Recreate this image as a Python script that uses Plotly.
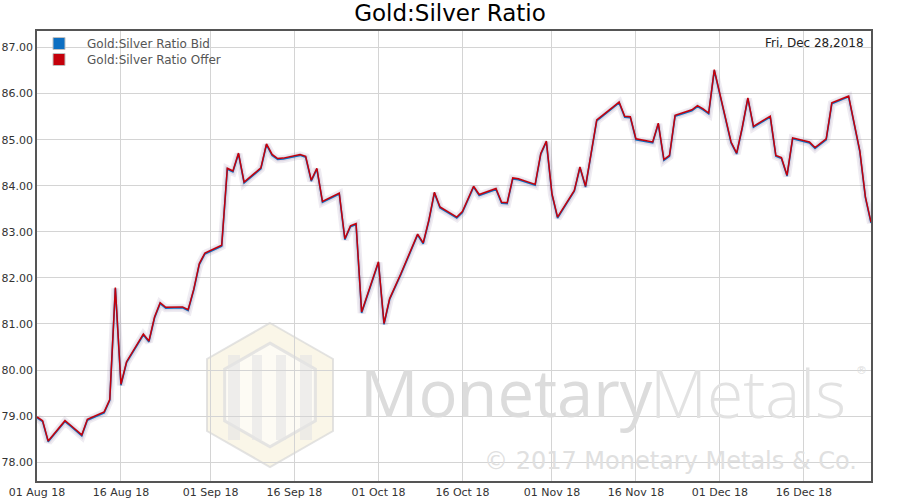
import plotly.graph_objects as go

dates = [
    "2018-08-01", "2018-08-02", "2018-08-03", "2018-08-06", "2018-08-07", "2018-08-08", "2018-08-09", "2018-08-10",
    "2018-08-13", "2018-08-14", "2018-08-15", "2018-08-16", "2018-08-17", "2018-08-20", "2018-08-21", "2018-08-22",
    "2018-08-23", "2018-08-24", "2018-08-27", "2018-08-28", "2018-08-29", "2018-08-30", "2018-08-31", "2018-09-03",
    "2018-09-04", "2018-09-05", "2018-09-06", "2018-09-07", "2018-09-10", "2018-09-11", "2018-09-12", "2018-09-13",
    "2018-09-14", "2018-09-17", "2018-09-18", "2018-09-19", "2018-09-20", "2018-09-21", "2018-09-24", "2018-09-25",
    "2018-09-26", "2018-09-27", "2018-09-28", "2018-10-01", "2018-10-02", "2018-10-03", "2018-10-04", "2018-10-05",
    "2018-10-08", "2018-10-09", "2018-10-10", "2018-10-11", "2018-10-12", "2018-10-15", "2018-10-16", "2018-10-17",
    "2018-10-18", "2018-10-19", "2018-10-22", "2018-10-23", "2018-10-24", "2018-10-25", "2018-10-26", "2018-10-29",
    "2018-10-30", "2018-10-31", "2018-11-01", "2018-11-02", "2018-11-05", "2018-11-06", "2018-11-07", "2018-11-08",
    "2018-11-09", "2018-11-12", "2018-11-13", "2018-11-14", "2018-11-15", "2018-11-16", "2018-11-19", "2018-11-20",
    "2018-11-21", "2018-11-22", "2018-11-23", "2018-11-26", "2018-11-27", "2018-11-28", "2018-11-29", "2018-11-30",
    "2018-12-03", "2018-12-04", "2018-12-05", "2018-12-06", "2018-12-07", "2018-12-10", "2018-12-11", "2018-12-12",
    "2018-12-13", "2018-12-14", "2018-12-17", "2018-12-18", "2018-12-19", "2018-12-20", "2018-12-21", "2018-12-24",
    "2018-12-26", "2018-12-27", "2018-12-28",
]

offer = [
    78.98, 78.90, 78.46, 78.90, 78.80, 78.69, 78.59, 78.93,
    79.09, 79.36, 81.79, 79.69, 80.18, 80.78, 80.63, 81.15,
    81.46, 81.36, 81.37, 81.31, 81.75, 82.31, 82.54, 82.71,
    84.38, 84.32, 84.71, 84.08, 84.39, 84.91, 84.68, 84.59,
    84.60, 84.68, 84.64, 84.12, 84.38, 83.66, 83.84, 82.85,
    83.13, 83.18, 81.26, 82.35, 81.01, 81.55, 81.84, 82.09,
    82.95, 82.76, 83.25, 83.86, 83.54, 83.32, 83.44, 83.72,
    83.99, 83.81, 83.94, 83.64, 83.63, 84.17, 84.15, 84.03,
    84.70, 84.97, 83.83, 83.32, 83.90, 84.41, 83.99, 84.71,
    85.43, 85.72, 85.82, 85.51, 85.50, 85.02, 84.95, 85.36,
    84.57, 84.66, 85.53, 85.65, 85.74, 85.67, 85.58, 86.52,
    84.95, 84.71, 85.27, 85.91, 85.29, 85.51, 84.66, 84.61,
    84.23, 85.04, 84.95, 84.83, 84.93, 85.02, 85.80, 85.95,
    84.76, 83.76, 83.21,
]

bid = [
    78.96, 78.88, 78.44, 78.88, 78.78, 78.67, 78.57, 78.91,
    79.07, 79.34, 81.77, 79.67, 80.16, 80.76, 80.61, 81.13,
    81.44, 81.34, 81.35, 81.29, 81.73, 82.29, 82.52, 82.69,
    84.36, 84.30, 84.69, 84.06, 84.37, 84.89, 84.66, 84.57,
    84.58, 84.66, 84.62, 84.10, 84.36, 83.64, 83.82, 82.83,
    83.11, 83.16, 81.24, 82.33, 80.99, 81.53, 81.82, 82.07,
    82.93, 82.74, 83.23, 83.84, 83.52, 83.30, 83.42, 83.70,
    83.97, 83.79, 83.92, 83.62, 83.61, 84.15, 84.13, 84.01,
    84.68, 84.95, 83.81, 83.30, 83.88, 84.39, 83.97, 84.69,
    85.41, 85.70, 85.80, 85.49, 85.48, 85.00, 84.93, 85.34,
    84.55, 84.64, 85.51, 85.63, 85.72, 85.65, 85.56, 86.50,
    84.93, 84.69, 85.25, 85.89, 85.27, 85.49, 84.64, 84.59,
    84.21, 85.02, 84.93, 84.81, 84.91, 85.00, 85.78, 85.93,
    84.74, 83.74, 83.19,
]

x_tick_vals = ["2018-08-01", "2018-08-16", "2018-09-01", "2018-09-16", "2018-10-01",
               "2018-10-16", "2018-11-01", "2018-11-16", "2018-12-01", "2018-12-16"]
x_tick_text = ["01 Aug 18", "16 Aug 18", "01 Sep 18", "16 Sep 18", "01 Oct 18",
               "16 Oct 18", "01 Nov 18", "16 Nov 18", "01 Dec 18", "16 Dec 18"]
y_tick_vals = [78, 79, 80, 81, 82, 83, 84, 85, 86, 87]

series_names = ["Gold:Silver Ratio Bid", "Gold:Silver Ratio Offer"]
series_colors = ["#0d6fc2", "#c4000b"]
date_label = "Fri, Dec 28,2018"

W, H = 900, 500
L, R, T, B = 37, 29, 31, 19


def px(x):  # page pixel -> paper x
    return (x - L) / (W - L - R)


def py(y):  # page pixel -> paper y
    return (H - B - y) / (H - T - B)


fig = go.Figure()

# soft shadow
fig.add_trace(go.Scatter(x=dates, y=bid, mode="lines",
                         line=dict(color="rgba(120,100,150,0.12)", width=8),
                         showlegend=False, hoverinfo="skip"))
fig.add_trace(go.Scatter(x=dates, y=bid, mode="lines",
                         line=dict(color="rgba(120,100,150,0.14)", width=4.5),
                         showlegend=False, hoverinfo="skip"))
fig.add_trace(go.Scatter(x=dates, y=bid, mode="lines", name=series_names[0],
                         line=dict(color=series_colors[0], width=1.6), showlegend=False))
fig.add_trace(go.Scatter(x=dates, y=offer, mode="lines", name=series_names[1],
                         line=dict(color=series_colors[1], width=1.5), showlegend=False))

# watermark logo (hexagon)
cx, cy, rw, rh = 270, 395, 63, 72


def hexpath(s):
    pts = [(cx, cy - rh * s), (cx + rw * s, cy - rh * s / 2), (cx + rw * s, cy + rh * s / 2),
           (cx, cy + rh * s), (cx - rw * s, cy + rh * s / 2), (cx - rw * s, cy - rh * s / 2)]
    return "M " + " L ".join(f"{px(a)},{py(b)}" for a, b in pts) + " Z"


shapes = [
    dict(type="path", xref="paper", yref="paper", path=hexpath(1.0),
         fillcolor="rgba(246,238,214,0.55)", line=dict(color="rgba(215,215,215,0.7)", width=2), layer="below"),
    dict(type="path", xref="paper", yref="paper", path=hexpath(0.72),
         fillcolor="rgba(255,255,255,0.5)", line=dict(color="rgba(222,222,222,0.8)", width=3), layer="below"),
]
for bx in [(228, 240), (252, 262), (276, 286), (300, 312)]:
    shapes.append(dict(type="rect", xref="paper", yref="paper",
                       x0=px(bx[0]), x1=px(bx[1]), y0=py(440), y1=py(355),
                       fillcolor="rgba(228,228,228,0.6)", line=dict(width=0), layer="below"))

# legend squares
legend_rows = [43.5, 59.5]
for yy, col in zip(legend_rows, series_colors):
    shapes.append(dict(type="rect", xref="paper", yref="paper",
                       x0=px(53), x1=px(65), y0=py(yy + 6), y1=py(yy - 6),
                       fillcolor=col, line=dict(color="#c0c0c0", width=1)))

annotations = [
    dict(x=px(358), y=py(392), xref="paper", yref="paper", xanchor="left", yanchor="middle",
         text="Monetary", showarrow=False,
         font=dict(family="Open Sans", size=65, color="#dcdcdc")),
    dict(x=px(648), y=py(392), xref="paper", yref="paper", xanchor="left", yanchor="middle",
         text="Metals", showarrow=False,
         font=dict(family="Open Sans", size=66, color="#e2e2e2", weight=300)),
    dict(x=px(861), y=py(370), xref="paper", yref="paper", xanchor="center", yanchor="middle",
         text="®", showarrow=False, font=dict(family="DejaVu Sans", size=11, color="#dddddd")),
    dict(x=px(859), y=py(461), xref="paper", yref="paper", xanchor="right", yanchor="middle",
         text="© 2017 Monetary Metals & Co.", showarrow=False,
         font=dict(family="DejaVu Sans", size=24, color="#e0e0e0")),
    dict(x=px(866), y=py(43), xref="paper", yref="paper", xanchor="right", yanchor="middle",
         text=date_label, showarrow=False,
         font=dict(family="DejaVu Sans", size=12, color="#222222")),
]
for yy, nm in zip(legend_rows, series_names):
    annotations.append(dict(x=px(85), y=py(yy), xref="paper", yref="paper", xanchor="left",
                            yanchor="middle", text=nm, showarrow=False,
                            font=dict(family="DejaVu Sans", size=12, color="#555555")))

fig.update_layout(
    width=W, height=H,
    margin=dict(l=L, r=R, t=T, b=B, autoexpand=False),
    paper_bgcolor="white", plot_bgcolor="white",
    title=dict(text="Gold:Silver Ratio", x=0.5, xanchor="center",
               y=1 - 13 / H, yanchor="middle",
               font=dict(family="DejaVu Sans", size=23, color="#000000")),
    font=dict(family="DejaVu Sans", size=11, color="#333333"),
    showlegend=False,
    shapes=shapes,
    annotations=annotations,
    xaxis=dict(type="date", range=["2018-08-01", "2018-12-28"],
               tickvals=x_tick_vals, ticktext=x_tick_text, automargin=False,
               showgrid=True, gridcolor="#d4d4d4", gridwidth=1,
               showline=True, linecolor="#555555", linewidth=1.5, mirror=True,
               ticks="", zeroline=False, tickfont=dict(size=11, color="#333333")),
    yaxis=dict(range=[77.59, 87.36], tickvals=y_tick_vals, tickformat=".2f", automargin=False,
               showgrid=True, gridcolor="#d4d4d4", gridwidth=1,
               showline=True, linecolor="#555555", linewidth=1.5, mirror=True,
               ticks="", zeroline=False, tickfont=dict(size=11, color="#333333")),
)

# remove the browser's default 8px body margin so the figure fills the window exactly
fig.write_html("out.html", config={"displayModeBar": False},
               post_script="document.body.style.margin='0px';")
